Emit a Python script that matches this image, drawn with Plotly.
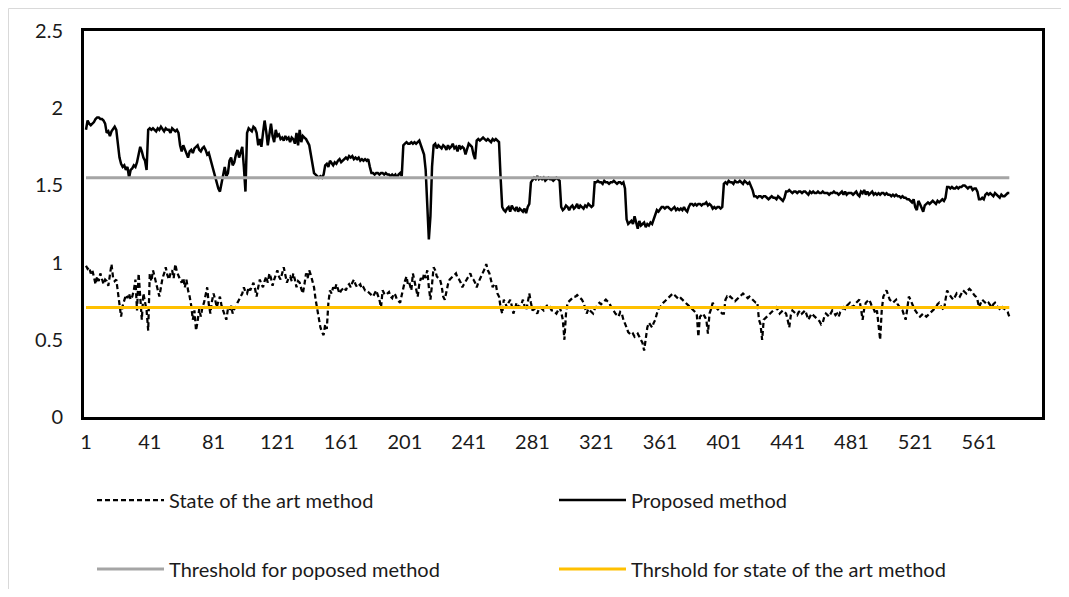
import plotly.graph_objects as go

# ---------------- data ----------------
TICK_LABELS = ["1", "41", "81", "121", "161", "201", "241", "281", "321", "361",
               "401", "441", "481", "521", "561"]

STATE_OF_ART = [
    0.98,0.96,0.97,0.93,0.95,0.90,0.86,0.91,0.88,0.93,0.90,0.86,0.89,0.88,0.85,0.92,0.99,0.90,0.88,0.89,
    0.82,0.74,0.65,0.72,0.76,0.79,0.77,0.80,0.76,0.78,0.82,0.89,0.69,0.93,0.78,0.63,0.80,0.75,0.69,0.56,
    0.93,0.88,0.95,0.91,0.87,0.82,0.78,0.84,0.90,0.93,0.97,0.92,0.89,0.93,0.95,0.90,0.99,0.94,0.91,0.89,
    0.87,0.90,0.84,0.89,0.82,0.78,0.72,0.63,0.69,0.56,0.62,0.70,0.65,0.71,0.74,0.80,0.84,0.73,0.67,0.75,
    0.80,0.76,0.71,0.75,0.78,0.72,0.69,0.66,0.63,0.70,0.69,0.72,0.67,0.70,0.71,0.74,0.76,0.78,0.80,0.84,
    0.81,0.80,0.84,0.82,0.85,0.87,0.83,0.78,0.84,0.89,0.86,0.84,0.88,0.91,0.87,0.93,0.90,0.85,0.89,0.92,
    0.95,0.91,0.89,0.93,0.97,0.92,0.87,0.90,0.91,0.88,0.93,0.89,0.84,0.88,0.87,0.83,0.80,0.86,0.93,0.90,
    0.95,0.92,0.88,0.84,0.76,0.69,0.62,0.58,0.55,0.53,0.60,0.57,0.74,0.82,0.80,0.84,0.82,0.86,0.83,0.80,
    0.82,0.83,0.84,0.82,0.85,0.86,0.84,0.87,0.89,0.86,0.84,0.85,0.86,0.83,0.84,0.82,0.82,0.81,0.80,0.79,
    0.78,0.80,0.82,0.79,0.76,0.71,0.82,0.80,0.79,0.80,0.81,0.78,0.77,0.80,0.79,0.76,0.75,0.74,0.79,0.84,
    0.88,0.91,0.85,0.86,0.82,0.93,0.88,0.84,0.78,0.86,0.90,0.88,0.93,0.90,0.95,0.84,0.76,0.86,0.97,0.95,
    0.91,0.90,0.89,0.85,0.78,0.76,0.82,0.86,0.89,0.90,0.91,0.92,0.93,0.90,0.89,0.87,0.84,0.86,0.88,0.89,
    0.91,0.93,0.90,0.89,0.87,0.84,0.87,0.89,0.91,0.93,0.96,0.99,0.95,0.93,0.88,0.84,0.86,0.86,0.80,0.78,
    0.71,0.67,0.76,0.73,0.71,0.74,0.76,0.72,0.67,0.70,0.74,0.72,0.71,0.73,0.76,0.72,0.69,0.74,0.80,0.74,
    0.69,0.70,0.68,0.67,0.70,0.71,0.70,0.69,0.71,0.72,0.70,0.71,0.69,0.69,0.68,0.67,0.69,0.71,0.68,0.63,
    0.50,0.67,0.74,0.75,0.76,0.77,0.78,0.78,0.79,0.78,0.77,0.76,0.74,0.70,0.67,0.70,0.69,0.68,0.67,0.70,
    0.71,0.73,0.74,0.73,0.74,0.75,0.76,0.75,0.74,0.72,0.70,0.69,0.67,0.66,0.65,0.68,0.67,0.63,0.61,0.58,
    0.55,0.54,0.53,0.54,0.52,0.53,0.54,0.52,0.50,0.48,0.43,0.52,0.58,0.61,0.59,0.58,0.61,0.63,0.67,0.70,
    0.71,0.73,0.74,0.75,0.76,0.77,0.78,0.79,0.80,0.79,0.78,0.77,0.76,0.77,0.76,0.75,0.74,0.73,0.72,0.71,
    0.70,0.69,0.68,0.67,0.52,0.65,0.66,0.67,0.65,0.63,0.54,0.67,0.70,0.74,0.72,0.71,0.70,0.69,0.68,0.67,
    0.67,0.76,0.78,0.77,0.78,0.77,0.76,0.75,0.76,0.77,0.78,0.79,0.80,0.79,0.78,0.77,0.78,0.77,0.76,0.75,
    0.74,0.74,0.63,0.60,0.50,0.63,0.64,0.65,0.66,0.67,0.68,0.69,0.70,0.71,0.69,0.67,0.68,0.69,0.68,0.67,
    0.63,0.58,0.66,0.69,0.68,0.67,0.66,0.68,0.69,0.67,0.68,0.69,0.66,0.63,0.65,0.67,0.66,0.65,0.64,0.63,
    0.62,0.60,0.61,0.65,0.67,0.66,0.65,0.67,0.69,0.68,0.66,0.67,0.65,0.68,0.69,0.71,0.70,0.72,0.73,0.74,
    0.72,0.71,0.73,0.74,0.75,0.76,0.70,0.63,0.70,0.74,0.75,0.76,0.74,0.71,0.70,0.67,0.69,0.60,0.50,0.69,
    0.78,0.80,0.82,0.79,0.76,0.75,0.74,0.75,0.76,0.73,0.71,0.70,0.69,0.66,0.63,0.70,0.78,0.76,0.73,0.71,
    0.69,0.67,0.66,0.65,0.66,0.67,0.66,0.65,0.66,0.67,0.68,0.69,0.70,0.71,0.73,0.74,0.72,0.70,0.69,0.76,
    0.82,0.80,0.78,0.77,0.76,0.78,0.80,0.79,0.78,0.80,0.82,0.81,0.80,0.82,0.83,0.82,0.80,0.79,0.78,0.76,
    0.71,0.74,0.76,0.75,0.74,0.73,0.74,0.72,0.71,0.73,0.74,0.72,0.71,0.70,0.69,0.71,0.70,0.69,0.68,0.65,
]

PROPOSED = [
    1.86,1.92,1.90,1.89,1.90,1.91,1.93,1.94,1.94,1.93,1.93,1.92,1.90,1.84,1.85,1.82,1.85,1.87,1.88,1.86,
    1.75,1.68,1.64,1.62,1.63,1.60,1.62,1.55,1.60,1.61,1.63,1.62,1.65,1.70,1.75,1.72,1.68,1.66,1.60,1.86,
    1.87,1.86,1.87,1.86,1.85,1.87,1.86,1.88,1.86,1.85,1.87,1.86,1.86,1.84,1.87,1.86,1.85,1.86,1.84,1.76,
    1.72,1.76,1.73,1.70,1.68,1.72,1.73,1.71,1.74,1.75,1.76,1.73,1.72,1.74,1.75,1.73,1.70,1.71,1.67,1.64,
    1.60,1.56,1.52,1.48,1.46,1.52,1.58,1.62,1.56,1.58,1.66,1.68,1.63,1.65,1.70,1.73,1.68,1.72,1.75,1.62,
    1.46,1.84,1.87,1.86,1.85,1.88,1.87,1.84,1.76,1.80,1.75,1.84,1.92,1.85,1.76,1.83,1.90,1.82,1.78,1.86,
    1.82,1.83,1.80,1.81,1.79,1.82,1.80,1.81,1.78,1.81,1.80,1.77,1.84,1.76,1.86,1.78,1.82,1.81,1.80,1.78,
    1.76,1.70,1.64,1.58,1.57,1.56,1.55,1.56,1.55,1.57,1.63,1.64,1.62,1.66,1.64,1.63,1.65,1.64,1.66,1.67,
    1.65,1.66,1.67,1.68,1.67,1.69,1.68,1.69,1.67,1.68,1.67,1.68,1.66,1.67,1.66,1.67,1.66,1.67,1.62,1.58,
    1.58,1.57,1.58,1.58,1.57,1.58,1.58,1.57,1.58,1.57,1.57,1.56,1.57,1.56,1.57,1.55,1.57,1.58,1.56,1.76,
    1.77,1.78,1.77,1.77,1.78,1.77,1.78,1.77,1.78,1.79,1.76,1.73,1.70,1.60,1.35,1.15,1.30,1.62,1.76,1.77,
    1.74,1.76,1.75,1.74,1.76,1.75,1.73,1.76,1.74,1.75,1.77,1.74,1.75,1.72,1.76,1.74,1.75,1.74,1.70,1.73,
    1.77,1.76,1.75,1.70,1.67,1.79,1.80,1.79,1.80,1.81,1.80,1.79,1.80,1.79,1.78,1.80,1.79,1.80,1.79,1.78,
    1.55,1.36,1.34,1.33,1.35,1.36,1.33,1.37,1.35,1.34,1.36,1.33,1.35,1.34,1.33,1.35,1.32,1.36,1.38,1.52,
    1.54,1.55,1.54,1.56,1.54,1.55,1.54,1.55,1.53,1.54,1.55,1.54,1.54,1.53,1.54,1.55,1.54,1.53,1.36,1.34,
    1.35,1.37,1.36,1.34,1.36,1.37,1.35,1.36,1.38,1.35,1.37,1.36,1.35,1.37,1.36,1.38,1.37,1.36,1.37,1.52,
    1.52,1.53,1.52,1.52,1.51,1.53,1.52,1.52,1.51,1.52,1.52,1.53,1.52,1.51,1.52,1.52,1.51,1.52,1.48,1.28,
    1.25,1.26,1.27,1.25,1.30,1.26,1.22,1.27,1.24,1.25,1.26,1.23,1.25,1.24,1.26,1.25,1.28,1.32,1.34,1.33,
    1.35,1.36,1.36,1.35,1.36,1.36,1.35,1.34,1.35,1.36,1.34,1.35,1.34,1.35,1.34,1.36,1.34,1.33,1.36,1.38,
    1.38,1.37,1.38,1.37,1.38,1.38,1.37,1.38,1.38,1.39,1.37,1.38,1.37,1.35,1.36,1.35,1.36,1.36,1.35,1.36,
    1.51,1.52,1.51,1.53,1.52,1.52,1.51,1.53,1.52,1.52,1.53,1.52,1.51,1.53,1.52,1.51,1.52,1.50,1.47,1.43,
    1.43,1.42,1.43,1.43,1.42,1.43,1.43,1.42,1.41,1.42,1.43,1.42,1.42,1.41,1.43,1.42,1.41,1.40,1.42,1.46,
    1.46,1.47,1.46,1.45,1.46,1.46,1.45,1.46,1.46,1.45,1.46,1.46,1.45,1.44,1.46,1.45,1.46,1.45,1.45,1.46,
    1.45,1.45,1.46,1.45,1.45,1.45,1.44,1.45,1.45,1.46,1.45,1.45,1.44,1.45,1.46,1.44,1.46,1.44,1.45,1.45,
    1.45,1.44,1.45,1.46,1.44,1.43,1.46,1.45,1.47,1.44,1.46,1.44,1.45,1.46,1.44,1.45,1.44,1.45,1.44,1.45,
    1.45,1.44,1.45,1.44,1.44,1.43,1.44,1.43,1.44,1.43,1.43,1.42,1.43,1.42,1.42,1.41,1.41,1.40,1.39,1.41,
    1.36,1.34,1.40,1.38,1.36,1.33,1.37,1.38,1.39,1.38,1.39,1.40,1.39,1.38,1.40,1.39,1.40,1.41,1.40,1.42,
    1.49,1.49,1.48,1.49,1.48,1.48,1.49,1.48,1.49,1.49,1.50,1.50,1.49,1.48,1.49,1.49,1.47,1.48,1.48,1.46,
    1.41,1.41,1.42,1.41,1.44,1.45,1.44,1.45,1.44,1.43,1.45,1.44,1.43,1.42,1.44,1.43,1.43,1.44,1.45,1.45,
]

THRESHOLD_PROPOSED = 1.55
THRESHOLD_STATE = 0.71

N = len(PROPOSED)
CATEGORIES = list(range(1, N + 1))
THR_P = [THRESHOLD_PROPOSED] * N
THR_S = [THRESHOLD_STATE] * N

FONT = "Lato"
TXT = "#1a1a1a"
FS = 20

# the page body adds an 8 px margin, so the figure is drawn 8 px in from the corner
OFF = 8
FIG_W, FIG_H = 1069 - 2 * OFF, 597 - 2 * OFF
M_L, M_T = 84 - OFF, 31 - OFF
M_R = FIG_W - (1042 - OFF)
M_B = FIG_H - (417 - OFF)
PLOT_W = FIG_W - M_L - M_R
PLOT_H = FIG_H - M_T - M_B


def py(screen_y):
    """screen y (px) -> paper y"""
    return (417 - screen_y) / PLOT_H


def px(screen_x):
    """screen x (px) -> paper x"""
    return (screen_x - 84) / PLOT_W


fig = go.Figure()
fig.add_trace(go.Scatter(x=CATEGORIES, y=STATE_OF_ART, mode="lines",
                         name="State of the art method",
                         line=dict(color="black", width=2.25, dash="5px,3px"),
                         legend="legend"))
fig.add_trace(go.Scatter(x=CATEGORIES, y=PROPOSED, mode="lines",
                         name="Proposed method",
                         line=dict(color="black", width=2.5),
                         legend="legend"))
fig.add_trace(go.Scatter(x=CATEGORIES, y=THR_P, mode="lines",
                         name="Threshold for poposed method",
                         line=dict(color="#A5A5A5", width=3),
                         legend="legend2"))
fig.add_trace(go.Scatter(x=CATEGORIES, y=THR_S, mode="lines",
                         name="Thrshold for state of the art method",
                         line=dict(color="#FFC000", width=3),
                         legend="legend2"))

tickvals = [int(t) for t in TICK_LABELS]

legend_common = dict(orientation="h", xanchor="left", x=px(92), yanchor="middle",
                     entrywidth=380, entrywidthmode="pixels", itemwidth=67,
                     font=dict(family=FONT, size=FS, color=TXT),
                     bgcolor="rgba(0,0,0,0)", itemclick=False)

fig.update_layout(
    width=FIG_W, height=FIG_H,
    margin=dict(l=M_L, r=M_R, t=M_T, b=M_B, autoexpand=False),
    paper_bgcolor="white", plot_bgcolor="white",
    font=dict(family=FONT, size=FS, color=TXT),
    showlegend=True,
    legend=dict(**legend_common, y=py(500)),
    legend2=dict(**legend_common, y=py(569)),
    xaxis=dict(range=[-0.25, 600.5], tickmode="array", tickvals=tickvals,
               ticktext=TICK_LABELS, showgrid=False, zeroline=False,
               showline=True, mirror=True, linecolor="black", linewidth=3,
               ticks="", ticklabelstandoff=5, automargin=False,
               tickfont=dict(family=FONT, size=FS, color=TXT)),
    yaxis=dict(range=[0, 2.5], tickvals=[0, 0.5, 1, 1.5, 2, 2.5],
               ticktext=["0", "0.5", "1", "1.5", "2", "2.5"],
               showgrid=False, zeroline=False, automargin=False,
               showline=True, mirror=True, linecolor="black", linewidth=3,
               ticks="", ticklabelstandoff=14,
               tickfont=dict(family=FONT, size=FS, color=TXT)),
    shapes=[dict(type="rect", xref="paper", yref="paper",
                 x0=px(8.5), x1=px(1061.5), y0=py(591.5), y1=py(8.5),
                 line=dict(color="#D9D9D9", width=1), fillcolor="rgba(0,0,0,0)",
                 layer="below")],
)

fig.write_html("out.html")
